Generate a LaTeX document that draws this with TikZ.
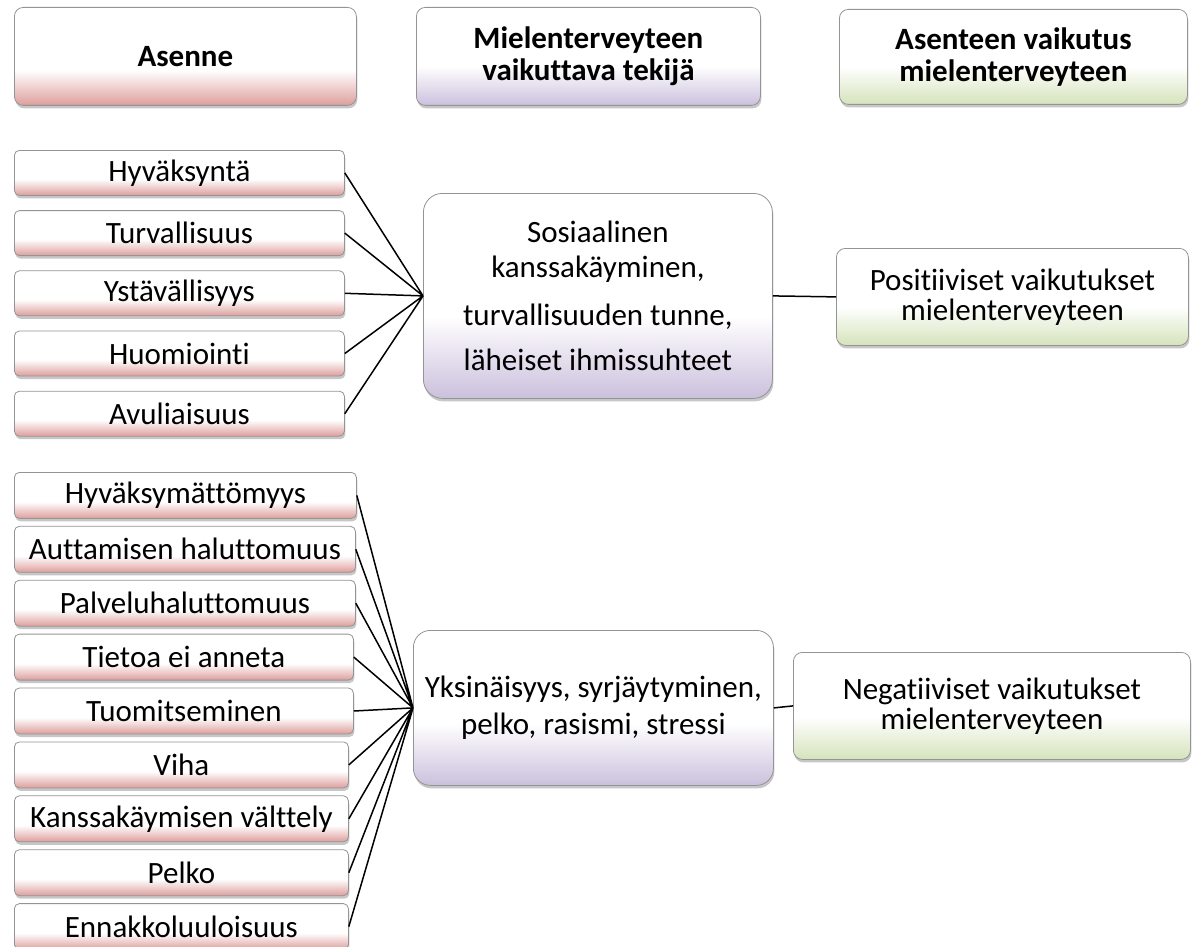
\documentclass[tikz,border=0pt]{standalone}
\usepackage{fontspec}
\setmainfont[Ligatures=NoCommon]{Carlito}
\usepackage{xcolor}
\usepackage{tikz}
\usetikzlibrary{positioning,shadows}
\definecolor{asennepuna}{RGB}{221,158,156}
\definecolor{tekijalila}{RGB}{203,192,221}
\definecolor{vaikutusvihrea}{RGB}{213,227,187}
\pgfdeclareverticalshading{punahaivytys}{100bp}{color(0bp)=(asennepuna); color(25bp)=(asennepuna); color(43bp)=(white); color(100bp)=(white)}
\pgfdeclareverticalshading{lilahaivytys}{100bp}{color(0bp)=(tekijalila); color(25bp)=(tekijalila); color(45bp)=(white); color(100bp)=(white)}
\pgfdeclareverticalshading{vihreahaivytys}{100bp}{color(0bp)=(vaikutusvihrea); color(25bp)=(vaikutusvihrea); color(45bp)=(white); color(100bp)=(white)}
\tikzset{
    laatikko/.style={
        rectangle,
        draw=black!42,
        line width=0.8pt,
        align=center,
        inner sep=0pt,
        rounded corners=5pt,
        drop shadow={shadow xshift=1pt, shadow yshift=-3pt, opacity=0.22, fill=black}
    },
    asennebox/.style={laatikko, shading=punahaivytys},
    tekijabox/.style={laatikko, shading=lilahaivytys, rounded corners=19pt},
    vaikutusbox/.style={laatikko, shading=vihreahaivytys, rounded corners=9pt},
    otsikko/.style={rounded corners=9pt, font=\bfseries\fontsize{31}{32}\selectfont},
    ylapieni/.style={asennebox, minimum width=330pt, minimum height=45pt},
    alapieni/.style={asennebox, minimum height=46pt},
    yhteys/.style={line width=1.5pt, black}
}

\begin{document}
\begin{tikzpicture}[x=1pt, y=-1pt, font=\fontsize{31}{34}\selectfont]
    \useasboundingbox (0,0) rectangle (1196,947);

    % otsikot
    \node[asennebox, otsikko, anchor=north west, minimum width=342pt, minimum height=98pt] (asenne) at (14,7)
        {Asenne};
    \node[tekijabox, otsikko, anchor=north west, minimum width=344pt, minimum height=98pt] (tekija) at (416,7)
        {Mielenterveyteen\\vaikuttava tekijä};
    \node[vaikutusbox, otsikko, anchor=north west, minimum width=348pt, minimum height=95pt] (vaikutus) at (839,9)
        {Asenteen vaikutus\\mielenterveyteen};

    % myonteiset asenteet
    \node[ylapieni, anchor=north west] (hyvaksynta) at (14,150) {Hyväksyntä};
    \node[ylapieni, below=14.4pt of hyvaksynta] (turvallisuus) {Turvallisuus};
    \node[ylapieni, below=14.4pt of turvallisuus] (ystavallisyys) {Ystävällisyys};
    \node[ylapieni, below=14.4pt of ystavallisyys] (huomiointi) {Huomiointi};
    \node[ylapieni, below=14.4pt of huomiointi] (avuliaisuus) {Avuliaisuus};

    \node[tekijabox, anchor=north west, minimum width=349pt, minimum height=205pt,
          font=\fontsize{31}{35}\selectfont] (sosiaalinen) at (423,193)
        {Sosiaalinen\\kanssakäyminen,\\[13pt]turvallisuuden tunne,\\[10pt]läheiset ihmissuhteet};
    \node[vaikutusbox, anchor=north west, minimum width=352pt, minimum height=97pt,
          font=\fontsize{31}{30}\selectfont] (positiivinen) at (836,248)
        {Positiiviset vaikutukset\\mielenterveyteen};

    \draw[yhteys] (hyvaksynta.east) -- (sosiaalinen.west)
        (turvallisuus.east) -- (sosiaalinen.west)
        (ystavallisyys.east) -- (sosiaalinen.west)
        (huomiointi.east) -- (sosiaalinen.west)
        (avuliaisuus.east) -- (sosiaalinen.west);
    \draw[yhteys] (sosiaalinen.east) -- (positiivinen.west);

    % kielteiset asenteet
    \node[alapieni, anchor=north west, minimum width=342pt] (hyvaksymattomyys) at (14,472) {Hyväksymättömyys};
    \node[alapieni, below=7.1pt of hyvaksymattomyys.south west, anchor=north west, minimum width=341pt] (auttaminen)
        {Auttamisen haluttomuus};
    \node[alapieni, below=7.1pt of auttaminen.south west, anchor=north west, minimum width=341pt] (palvelu)
        {Palveluhaluttomuus};
    \node[alapieni, below=7.1pt of palvelu.south west, anchor=north west, minimum width=339pt] (tieto)
        {Tietoa ei anneta};
    \node[alapieni, below=7.1pt of tieto.south west, anchor=north west, minimum width=339pt] (tuomitseminen)
        {Tuomitseminen};
    \node[alapieni, below=7.1pt of tuomitseminen.south west, anchor=north west, minimum width=334pt] (viha)
        {Viha};
    \node[alapieni, below=7.1pt of viha.south west, anchor=north west, minimum width=334pt] (valttely)
        {Kanssakäymisen välttely};
    \node[alapieni, below=7.1pt of valttely.south west, anchor=north west, minimum width=334pt] (pelko)
        {Pelko};
    \node[alapieni, below=7.1pt of pelko.south west, anchor=north west, minimum width=334pt] (ennakko)
        {Ennakkoluuloisuus};

    \node[tekijabox, rounded corners=17pt, anchor=north west, minimum width=360pt, minimum height=155pt,
          font=\fontsize{31}{37}\selectfont] (yksinaisyys) at (413,630)
        {Yksinäisyys, syrjäytyminen,\\pelko, rasismi, stressi};
    \node[vaikutusbox, anchor=north west, minimum width=397pt, minimum height=107pt,
          font=\fontsize{31}{30}\selectfont] (negatiivinen) at (793,652)
        {Negatiiviset vaikutukset\\mielenterveyteen};

    \draw[yhteys] (hyvaksymattomyys.east) -- (yksinaisyys.west)
        (auttaminen.east) -- (yksinaisyys.west)
        (palvelu.east) -- (yksinaisyys.west)
        (tieto.east) -- (yksinaisyys.west)
        (tuomitseminen.east) -- (yksinaisyys.west)
        (viha.east) -- (yksinaisyys.west)
        (valttely.east) -- (yksinaisyys.west)
        (pelko.east) -- (yksinaisyys.west)
        (ennakko.east) -- (yksinaisyys.west);
    \draw[yhteys] (yksinaisyys.east) -- (negatiivinen.west);
\end{tikzpicture}
\end{document}
